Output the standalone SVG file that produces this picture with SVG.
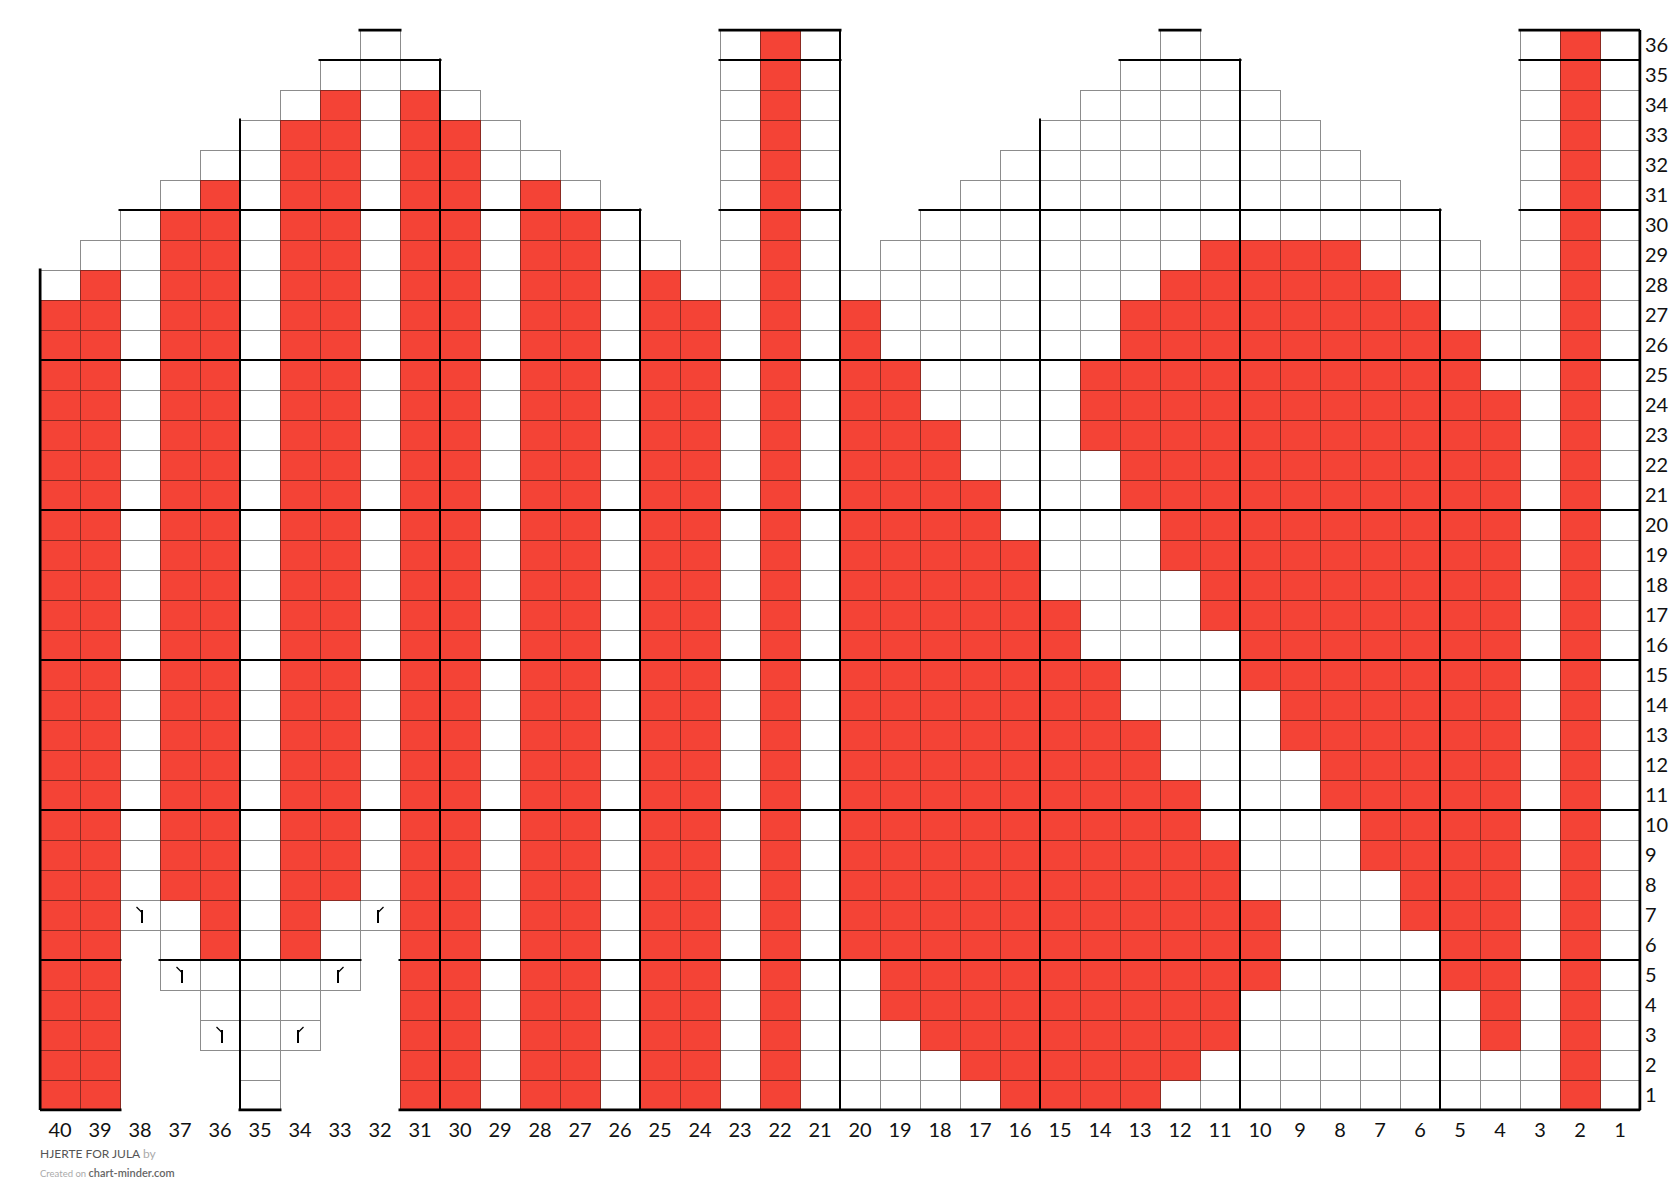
<svg xmlns="http://www.w3.org/2000/svg" xmlns:xlink="http://www.w3.org/1999/xlink" width="1680" height="1203" viewBox="0 0 1680 1203">
<style>
.w{fill:url(#pw)}
.r{fill:url(#pr)}
.t{fill:none;stroke:#000;stroke-width:2}
.o{fill:none;stroke:#000;stroke-width:3}
.sv{fill:none;stroke:#000;stroke-width:2}
.sd{fill:none;stroke:#000;stroke-width:1.3}
.lbl{font-family:Lato,"Liberation Sans",sans-serif;font-size:20px;fill:#111}
.cl{text-anchor:middle}
.ft{font-family:Lato,"Liberation Sans",sans-serif}
</style>
<defs>
<pattern id="pw" width="40" height="30" patternUnits="userSpaceOnUse"><rect width="40" height="30" fill="#fff"/><path d="M0 .5H40M.5 0V30" stroke="#8c8c8c" stroke-width="1"/></pattern>
<pattern id="pr" width="40" height="30" patternUnits="userSpaceOnUse"><rect width="40" height="30" fill="#f44336"/><path d="M0 .5H40M.5 0V30" stroke="#8a2a22" stroke-width="1"/></pattern>
<clipPath id="shape">
<rect x="38.5" y="268.5" width="43" height="843"/>
<rect x="78.5" y="238.5" width="43" height="873"/>
<rect x="118.5" y="208.5" width="43" height="723"/>
<rect x="158.5" y="178.5" width="43" height="813"/>
<rect x="198.5" y="148.5" width="43" height="903"/>
<rect x="238.5" y="118.5" width="43" height="993"/>
<rect x="278.5" y="88.5" width="43" height="963"/>
<rect x="318.5" y="58.5" width="43" height="933"/>
<rect x="358.5" y="28.5" width="43" height="903"/>
<rect x="398.5" y="58.5" width="43" height="1053"/>
<rect x="438.5" y="88.5" width="43" height="1023"/>
<rect x="478.5" y="118.5" width="43" height="993"/>
<rect x="518.5" y="148.5" width="43" height="963"/>
<rect x="558.5" y="178.5" width="43" height="933"/>
<rect x="598.5" y="208.5" width="43" height="903"/>
<rect x="638.5" y="238.5" width="43" height="873"/>
<rect x="678.5" y="268.5" width="43" height="843"/>
<rect x="718.5" y="28.5" width="123" height="1083"/>
<rect x="838.5" y="268.5" width="43" height="843"/>
<rect x="878.5" y="238.5" width="43" height="873"/>
<rect x="918.5" y="208.5" width="43" height="903"/>
<rect x="958.5" y="178.5" width="43" height="933"/>
<rect x="998.5" y="148.5" width="43" height="963"/>
<rect x="1038.5" y="118.5" width="43" height="993"/>
<rect x="1078.5" y="88.5" width="43" height="1023"/>
<rect x="1118.5" y="58.5" width="43" height="1053"/>
<rect x="1158.5" y="28.5" width="43" height="1083"/>
<rect x="1198.5" y="58.5" width="43" height="1053"/>
<rect x="1238.5" y="88.5" width="43" height="1023"/>
<rect x="1278.5" y="118.5" width="43" height="993"/>
<rect x="1318.5" y="148.5" width="43" height="963"/>
<rect x="1358.5" y="178.5" width="43" height="933"/>
<rect x="1398.5" y="208.5" width="43" height="903"/>
<rect x="1438.5" y="238.5" width="43" height="873"/>
<rect x="1478.5" y="268.5" width="43" height="843"/>
<rect x="1518.5" y="28.5" width="123" height="1083"/>
</clipPath>
<g id="dl"><path class="sv" d="M22 10V23"/><path class="sd" d="M16.5 7L22 12.5"/></g>
<g id="dr"><path class="sv" d="M18 10V23"/><path class="sd" d="M23.5 7L18 12.5"/></g>
</defs>
<rect width="1680" height="1203" fill="#fff"/>
<g id="cells-white">
<rect class="w" x="40" y="270" width="41" height="841"/>
<rect class="w" x="80" y="240" width="41" height="871"/>
<rect class="w" x="120" y="210" width="41" height="721"/>
<rect class="w" x="160" y="180" width="41" height="811"/>
<rect class="w" x="200" y="150" width="41" height="901"/>
<rect class="w" x="240" y="120" width="41" height="991"/>
<rect class="w" x="280" y="90" width="41" height="961"/>
<rect class="w" x="320" y="60" width="41" height="931"/>
<rect class="w" x="360" y="30" width="41" height="901"/>
<rect class="w" x="400" y="60" width="41" height="1051"/>
<rect class="w" x="440" y="90" width="41" height="1021"/>
<rect class="w" x="480" y="120" width="41" height="991"/>
<rect class="w" x="520" y="150" width="41" height="961"/>
<rect class="w" x="560" y="180" width="41" height="931"/>
<rect class="w" x="600" y="210" width="41" height="901"/>
<rect class="w" x="640" y="240" width="41" height="871"/>
<rect class="w" x="680" y="270" width="41" height="841"/>
<rect class="w" x="720" y="30" width="121" height="1081"/>
<rect class="w" x="840" y="270" width="41" height="841"/>
<rect class="w" x="880" y="240" width="41" height="871"/>
<rect class="w" x="920" y="210" width="41" height="901"/>
<rect class="w" x="960" y="180" width="41" height="931"/>
<rect class="w" x="1000" y="150" width="41" height="961"/>
<rect class="w" x="1040" y="120" width="41" height="991"/>
<rect class="w" x="1080" y="90" width="41" height="1021"/>
<rect class="w" x="1120" y="60" width="41" height="1051"/>
<rect class="w" x="1160" y="30" width="41" height="1081"/>
<rect class="w" x="1200" y="60" width="41" height="1051"/>
<rect class="w" x="1240" y="90" width="41" height="1021"/>
<rect class="w" x="1280" y="120" width="41" height="991"/>
<rect class="w" x="1320" y="150" width="41" height="961"/>
<rect class="w" x="1360" y="180" width="41" height="931"/>
<rect class="w" x="1400" y="210" width="41" height="901"/>
<rect class="w" x="1440" y="240" width="41" height="871"/>
<rect class="w" x="1480" y="270" width="41" height="841"/>
<rect class="w" x="1520" y="30" width="121" height="1081"/>
</g>
<g id="cells-red">
<rect class="r" x="40" y="300" width="41" height="811"/>
<rect class="r" x="80" y="270" width="41" height="841"/>
<rect class="r" x="160" y="210" width="41" height="691"/>
<rect class="r" x="200" y="180" width="41" height="781"/>
<rect class="r" x="280" y="120" width="41" height="841"/>
<rect class="r" x="320" y="90" width="41" height="811"/>
<rect class="r" x="400" y="90" width="41" height="1021"/>
<rect class="r" x="440" y="120" width="41" height="991"/>
<rect class="r" x="520" y="180" width="41" height="931"/>
<rect class="r" x="560" y="210" width="41" height="901"/>
<rect class="r" x="640" y="270" width="41" height="841"/>
<rect class="r" x="680" y="300" width="41" height="811"/>
<rect class="r" x="760" y="30" width="41" height="1081"/>
<rect class="r" x="840" y="300" width="41" height="661"/>
<rect class="r" x="880" y="360" width="41" height="661"/>
<rect class="r" x="920" y="420" width="41" height="631"/>
<rect class="r" x="960" y="480" width="41" height="601"/>
<rect class="r" x="1000" y="540" width="41" height="571"/>
<rect class="r" x="1040" y="600" width="41" height="511"/>
<rect class="r" x="1080" y="660" width="41" height="451"/>
<rect class="r" x="1080" y="360" width="41" height="91"/>
<rect class="r" x="1120" y="720" width="41" height="391"/>
<rect class="r" x="1120" y="300" width="41" height="211"/>
<rect class="r" x="1160" y="780" width="41" height="301"/>
<rect class="r" x="1160" y="270" width="41" height="301"/>
<rect class="r" x="1200" y="840" width="41" height="211"/>
<rect class="r" x="1200" y="240" width="41" height="391"/>
<rect class="r" x="1240" y="900" width="41" height="91"/>
<rect class="r" x="1240" y="240" width="41" height="451"/>
<rect class="r" x="1280" y="240" width="41" height="511"/>
<rect class="r" x="1320" y="240" width="41" height="571"/>
<rect class="r" x="1360" y="270" width="41" height="601"/>
<rect class="r" x="1400" y="300" width="41" height="631"/>
<rect class="r" x="1440" y="330" width="41" height="661"/>
<rect class="r" x="1480" y="390" width="41" height="661"/>
<rect class="r" x="1560" y="30" width="41" height="1081"/>
</g>
<g id="thick-lines" clip-path="url(#shape)">
<path class="t" d="M240 30V1110M440 30V1110M640 30V1110M840 30V1110M1040 30V1110M1240 30V1110M1440 30V1110M40 60H1640M40 210H1640M40 360H1640M40 510H1640M40 660H1640M40 810H1640M40 960H1640"/>
<path class="o" d="M40 30V1110M1640 30V1110M40 30H1640M40 1110H1640"/>
</g>
<g id="symbols">
<use xlink:href="#dl" href="#dl" transform="translate(120 900)"/>
<use xlink:href="#dl" href="#dl" transform="translate(160 960)"/>
<use xlink:href="#dl" href="#dl" transform="translate(200 1020)"/>
<use xlink:href="#dr" href="#dr" transform="translate(360 900)"/>
<use xlink:href="#dr" href="#dr" transform="translate(320 960)"/>
<use xlink:href="#dr" href="#dr" transform="translate(280 1020)"/>
</g>
<g id="col-labels" class="lbl cl">
<text x="60" y="1137">40</text><text x="100" y="1137">39</text><text x="140" y="1137">38</text><text x="180" y="1137">37</text><text x="220" y="1137">36</text>
<text x="260" y="1137">35</text><text x="300" y="1137">34</text><text x="340" y="1137">33</text><text x="380" y="1137">32</text><text x="420" y="1137">31</text>
<text x="460" y="1137">30</text><text x="500" y="1137">29</text><text x="540" y="1137">28</text><text x="580" y="1137">27</text><text x="620" y="1137">26</text>
<text x="660" y="1137">25</text><text x="700" y="1137">24</text><text x="740" y="1137">23</text><text x="780" y="1137">22</text><text x="820" y="1137">21</text>
<text x="860" y="1137">20</text><text x="900" y="1137">19</text><text x="940" y="1137">18</text><text x="980" y="1137">17</text><text x="1020" y="1137">16</text>
<text x="1060" y="1137">15</text><text x="1100" y="1137">14</text><text x="1140" y="1137">13</text><text x="1180" y="1137">12</text><text x="1220" y="1137">11</text>
<text x="1260" y="1137">10</text><text x="1300" y="1137">9</text><text x="1340" y="1137">8</text><text x="1380" y="1137">7</text><text x="1420" y="1137">6</text>
<text x="1460" y="1137">5</text><text x="1500" y="1137">4</text><text x="1540" y="1137">3</text><text x="1580" y="1137">2</text><text x="1620" y="1137">1</text>
</g>
<g id="row-labels" class="lbl">
<text x="1645" y="52">36</text><text x="1645" y="82">35</text><text x="1645" y="112">34</text><text x="1645" y="142">33</text><text x="1645" y="172">32</text><text x="1645" y="202">31</text>
<text x="1645" y="232">30</text><text x="1645" y="262">29</text><text x="1645" y="292">28</text><text x="1645" y="322">27</text><text x="1645" y="352">26</text><text x="1645" y="382">25</text>
<text x="1645" y="412">24</text><text x="1645" y="442">23</text><text x="1645" y="472">22</text><text x="1645" y="502">21</text><text x="1645" y="532">20</text><text x="1645" y="562">19</text>
<text x="1645" y="592">18</text><text x="1645" y="622">17</text><text x="1645" y="652">16</text><text x="1645" y="682">15</text><text x="1645" y="712">14</text><text x="1645" y="742">13</text>
<text x="1645" y="772">12</text><text x="1645" y="802">11</text><text x="1645" y="832">10</text><text x="1645" y="862">9</text><text x="1645" y="892">8</text><text x="1645" y="922">7</text>
<text x="1645" y="952">6</text><text x="1645" y="982">5</text><text x="1645" y="1012">4</text><text x="1645" y="1042">3</text><text x="1645" y="1072">2</text><text x="1645" y="1102">1</text>
</g>
<g id="footer" class="ft">
<text x="40" y="1158" font-size="12" fill="#555">HJERTE FOR JULA <tspan fill="#aaa">by</tspan></text>
<text x="40" y="1177" font-size="9.5" fill="#aaa">Created on <tspan font-size="11" font-weight="600" fill="#666">chart-minder.com</tspan></text>
</g>
</svg>
